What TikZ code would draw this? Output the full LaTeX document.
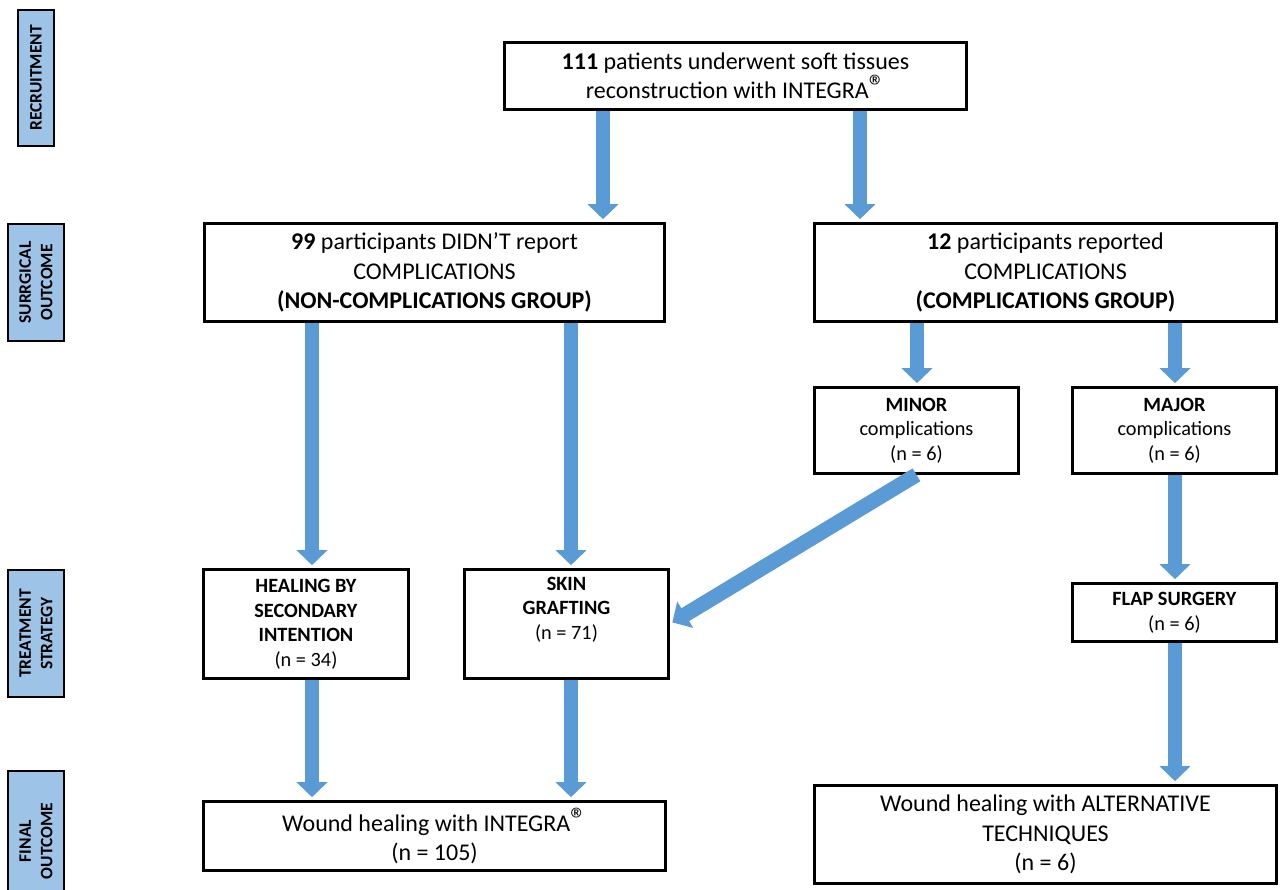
\documentclass[tikz,border=0pt]{standalone}
\usepackage{fontspec}
\usepackage{graphicx}
\setmainfont{Carlito}
\usetikzlibrary{arrows.meta}
\definecolor{arrblue}{RGB}{91,155,213}
\definecolor{labblue}{RGB}{157,195,230}
\tikzset{
 box/.style={draw=black, line width=2.6pt, fill=white, align=center, inner sep=0pt, font=\fontsize{24}{29.5}\selectfont},
 smallbox/.style={box, font=\fontsize{20.3}{24.5}\selectfont},
 stage/.style={draw=black, line width=2pt, fill=labblue, inner sep=0pt, align=center, rotate=90, font=\fontsize{17.5}{21.5}\selectfont\bfseries},
 arr/.style={draw=arrblue, line width=14pt, shorten >=3pt, -{Triangle[width=30pt,length=15pt]}},
}
\newcommand{\reg}{\raisebox{0.1ex}{\scalebox{1.35}{\textregistered}}}
\begin{document}
\begin{tikzpicture}[x=1pt,y=-1pt]
\useasboundingbox (0,0) rectangle (1280,890);
\clip (0,0) rectangle (1280,890);
% stage labels
\node[stage, minimum width=136pt, minimum height=36pt] (s1) at (36,78) {RECRUITMENT};
\node[stage, minimum width=117pt, minimum height=56pt] (s2) at (36,282.5) {SURRGICAL\\OUTCOME};
\node[stage, minimum width=127pt, minimum height=56pt] (s3) at (36,633.5) {TREATMENT\\STRATEGY};
\node[stage, minimum width=140pt, minimum height=56pt] (s4) at (36,841) {FINAL\\OUTCOME};
% boxes
\node[box, minimum width=462pt, minimum height=67pt] (top) at (735.5,76) {\textbf{111} patients underwent soft tissues\\reconstruction with INTEGRA\reg};
\node[box, minimum width=460pt, minimum height=98pt] (b99) at (434.5,272.5) {\textbf{99} participants DIDN’T report\\COMPLICATIONS\\\textbf{(NON-COMPLICATIONS GROUP)}};
\node[box, minimum width=462pt, minimum height=98pt] (b12) at (1045.5,272.5) {\textbf{12} participants reported\\COMPLICATIONS\\\textbf{(COMPLICATIONS GROUP)}};
\node[smallbox, minimum width=204pt, minimum height=86pt] (minor) at (916.5,430.5) {\textbf{MINOR}\\complications\\(n = 6)};
\node[smallbox, minimum width=204pt, minimum height=86pt] (major) at (1174.5,430.5) {\textbf{MAJOR}\\complications\\(n = 6)};
\node[smallbox, minimum width=205pt, minimum height=109pt] (heal) at (306,624) {\textbf{HEALING BY}\\\textbf{SECONDARY}\\\textbf{INTENTION}\\(n = 34)};
\node[smallbox, minimum width=204pt, minimum height=109pt] (skin) at (566.5,624) {\textbf{SKIN}\\\textbf{GRAFTING}\\(n = 71)\\\strut};
\node[smallbox, minimum width=204pt, minimum height=58pt] (flap) at (1174.5,612.5) {\textbf{FLAP SURGERY}\\(n = 6)};
\node[box, minimum width=462pt, minimum height=69pt] (wint) at (434.5,836) {Wound healing with INTEGRA\reg\\(n = 105)};
\node[box, minimum width=462pt, minimum height=98pt] (walt) at (1045.5,834.5) {Wound healing with ALTERNATIVE\\TECHNIQUES\\(n = 6)};
% arrow columns
\coordinate (xa) at (603,0);
\coordinate (xb) at (860,0);
\coordinate (xc) at (312,0);
\coordinate (xd) at (571,0);
\coordinate (xe) at (917,0);
\coordinate (xf) at (1175,0);
% arrows
\draw[arr] (top.south -| xa) -- (b99.north -| xa);
\draw[arr] (top.south -| xb) -- (b12.north -| xb);
\draw[arr] (b99.south -| xc) -- (heal.north -| xc);
\draw[arr] (b99.south -| xd) -- (skin.north -| xd);
\draw[arr] (b12.south -| xe) -- (minor.north -| xe);
\draw[arr] (b12.south -| xf) -- (major.north -| xf);
\draw[arr] (major.south -| xf) -- (flap.north -| xf);
\draw[arr] (flap.south -| xf) -- (walt.north -| xf);
\draw[arr] (heal.south -| xc) -- (wint.north -| xc);
\draw[arr] (skin.south -| xd) -- (wint.north -| xd);
\draw[arr, line width=15pt] (minor.south) -- (skin.east);
\end{tikzpicture}
\end{document}
